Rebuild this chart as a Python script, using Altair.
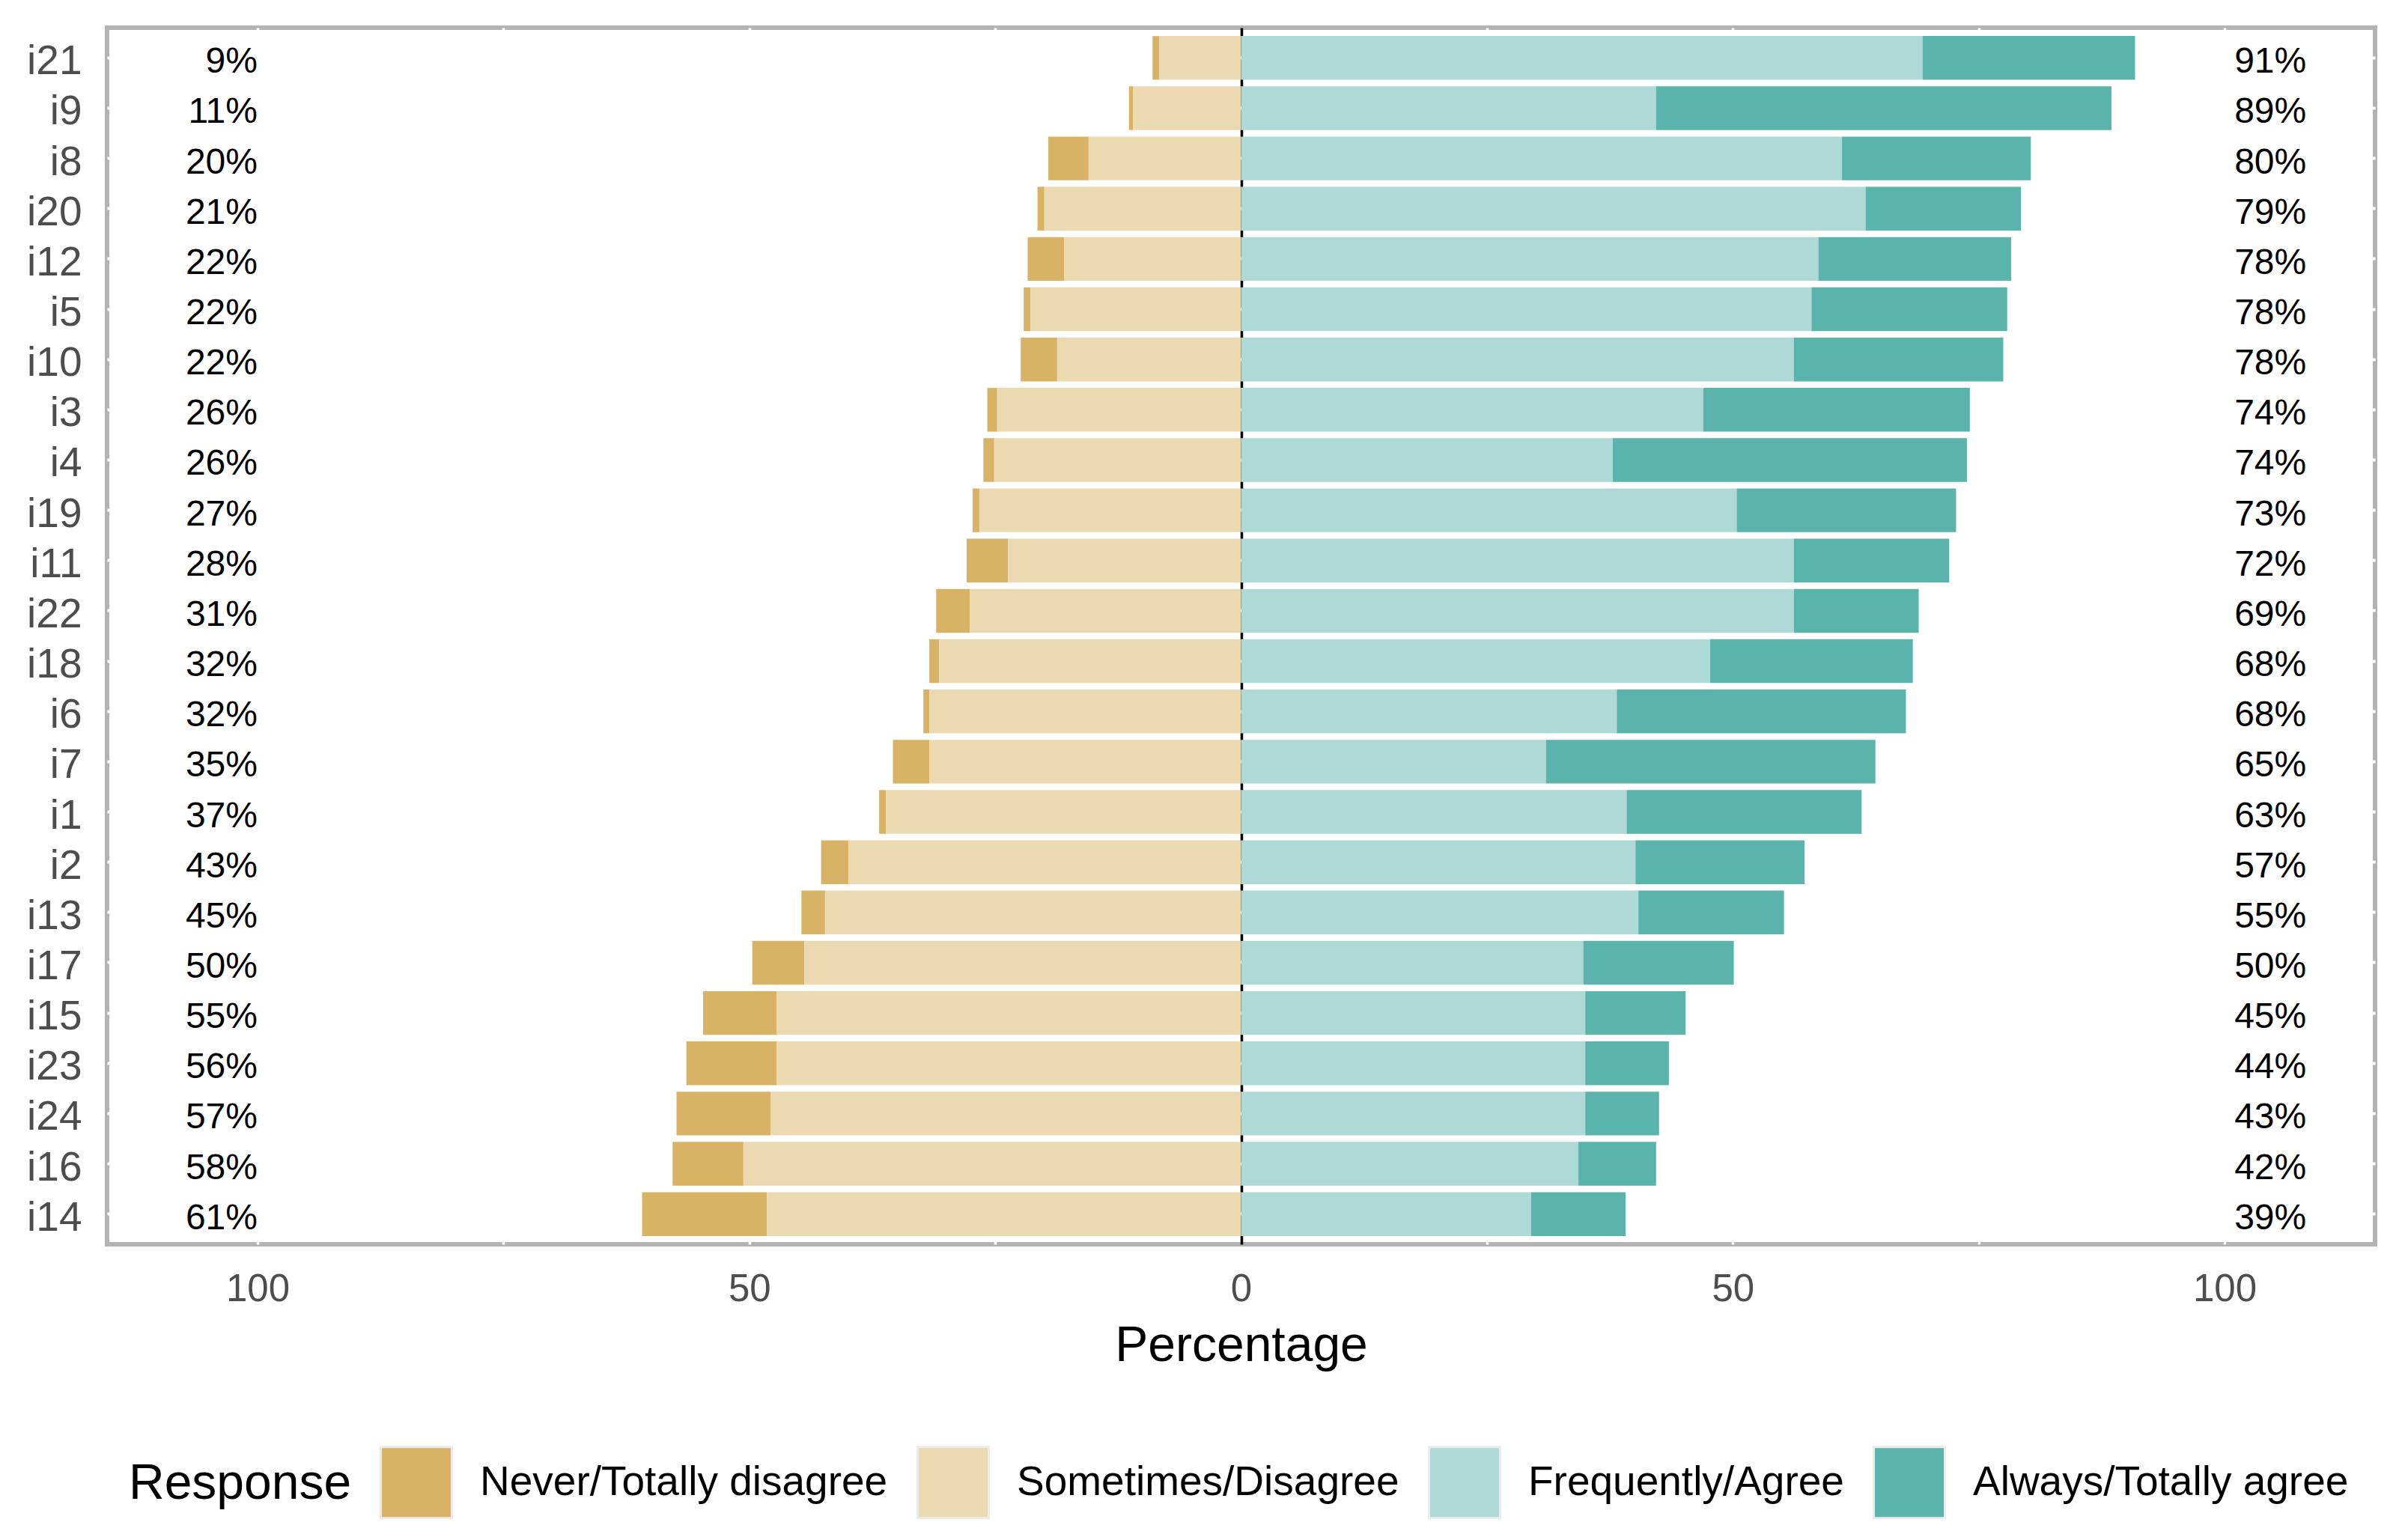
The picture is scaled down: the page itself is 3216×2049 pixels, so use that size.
import altair as alt
import pandas as pd

items = ["i21", "i9", "i8", "i20", "i12", "i5", "i10", "i3", "i4", "i19", "i11", "i22",
         "i18", "i6", "i7", "i1", "i2", "i13", "i17", "i15", "i23", "i24", "i16", "i14"]
never = [0.7, 0.4, 4.1, 0.7, 3.7, 0.7, 3.7, 1.0, 1.1, 0.7, 4.2, 3.4,
         1.0, 0.6, 3.7, 0.7, 2.8, 2.4, 5.3, 7.5, 9.2, 9.6, 7.2, 12.7]
sometimes = [8.3, 11.0, 15.5, 20.0, 18.0, 21.4, 18.7, 24.8, 25.1, 26.6, 23.7, 27.6,
             30.7, 31.7, 31.7, 36.1, 39.9, 42.3, 44.4, 47.2, 47.2, 47.8, 50.6, 48.2]
frequently = [69.3, 42.2, 61.1, 63.5, 58.7, 58.0, 56.2, 47.0, 37.8, 50.4, 56.2, 56.2,
              47.7, 38.2, 31.0, 39.2, 40.1, 40.4, 34.8, 35.0, 35.0, 35.0, 34.3, 29.5]
always = [21.6, 46.3, 19.2, 15.8, 19.6, 19.9, 21.3, 27.1, 36.0, 22.3, 15.8, 12.7,
          20.6, 29.4, 33.5, 23.9, 17.2, 14.8, 15.3, 10.2, 8.5, 7.5, 7.9, 9.6]
left_labels = ["9%", "11%", "20%", "21%", "22%", "22%", "22%", "26%", "26%", "27%", "28%", "31%",
               "32%", "32%", "35%", "37%", "43%", "45%", "50%", "55%", "56%", "57%", "58%", "61%"]
right_labels = ["91%", "89%", "80%", "79%", "78%", "78%", "78%", "74%", "74%", "73%", "72%", "69%",
                "68%", "68%", "65%", "63%", "57%", "55%", "50%", "45%", "44%", "43%", "42%", "39%"]

responses = ["Never/Totally disagree", "Sometimes/Disagree", "Frequently/Agree", "Always/Totally agree"]
colors = ["#D8B365", "#EBD9B2", "#AED9D6", "#5AB4AC"]

rows = []
for i, it in enumerate(items):
    rows.append({"item": it, "response": responses[0], "value": -never[i], "ord": 2})
    rows.append({"item": it, "response": responses[1], "value": -sometimes[i], "ord": 1})
    rows.append({"item": it, "response": responses[2], "value": frequently[i], "ord": 3})
    rows.append({"item": it, "response": responses[3], "value": always[i], "ord": 4})
df = pd.DataFrame(rows)
lab_df = pd.DataFrame({"item": items, "left": left_labels, "right": right_labels})

yenc = alt.Y(
    "item:N",
    sort=items,
    scale=alt.Scale(domain=items, paddingInner=0.13, paddingOuter=0.165),
    axis=alt.Axis(title=None, domain=False, ticks=False, labelPadding=34, labelFontSize=55,
                  labelOffset=5, labelColor="#4D4D4D", grid=True, gridColor="white", gridWidth=4),
)

xscale = alt.Scale(domain=[-115.3, 115.3], nice=False, zero=False)

bars = alt.Chart(df).mark_bar().encode(
    x=alt.X(
        "value:Q",
        stack="zero",
        scale=xscale,
        axis=alt.Axis(
            title="Percentage",
            values=[-100, -75, -50, -25, 0, 25, 50, 75, 100],
            labelExpr="datum.value % 50 === 0 ? '' + abs(datum.value) : ''",
            domain=False,
            ticks=False,
            labelFlush=False,
            labelOverlap=False,
            labelFontSize=51,
            labelColor="#4D4D4D",
            labelPadding=35,
            titleFontSize=66,
            titleFontWeight="normal",
            titleColor="black",
            titlePadding=18,
            grid=True,
            gridColor=alt.condition("datum.value === 0", alt.value("black"), alt.value("white")),
            gridWidth=3.5,
        ),
    ),
    y=yenc,
    color=alt.Color(
        "response:N",
        sort=responses,
        scale=alt.Scale(domain=responses, range=colors),
        legend=alt.Legend(
            title="Response",
            orient="none",
            legendX=29,
            legendY=1894,
            direction="horizontal",
            columns=4,
            titleOrient="left",
            titleFontSize=66,
            titleFontWeight="normal",
            titleColor="black",
            titlePadding=37,
            titleLimit=0,
            labelFontSize=55,
            labelColor="black",
            labelOffset=36,
            labelLimit=0,
            columnPadding=33,
            symbolType="square",
            symbolSize=9025,
            symbolStrokeColor="#EBEBEB",
            symbolStrokeWidth=3,
            symbolOpacity=1,
            padding=0,
        ),
    ),
    order=alt.Order("ord:Q"),
)

left_text = alt.Chart(lab_df).mark_text(align="right", baseline="middle", fontSize=48, color="black", dy=6).encode(
    x=alt.datum(-100, scale=xscale),
    y=yenc,
    text="left:N",
)
right_text = alt.Chart(lab_df).mark_text(align="left", baseline="middle", fontSize=48, color="black", dy=6).encode(
    x=alt.datum(101, scale=xscale),
    y=yenc,
    text="right:N",
)

chart = alt.layer(bars, left_text, right_text).properties(
    width=3029,
    height=1625,
    padding={"left": 135, "top": 29, "right": 36, "bottom": 379},
    autosize=alt.AutoSizeParams(type="none"),
).configure(font="Liberation Sans").configure_view(stroke="#B3B3B3", strokeWidth=6)

chart.save("out.html", embed_options={"renderer": "svg", "actions": False})
